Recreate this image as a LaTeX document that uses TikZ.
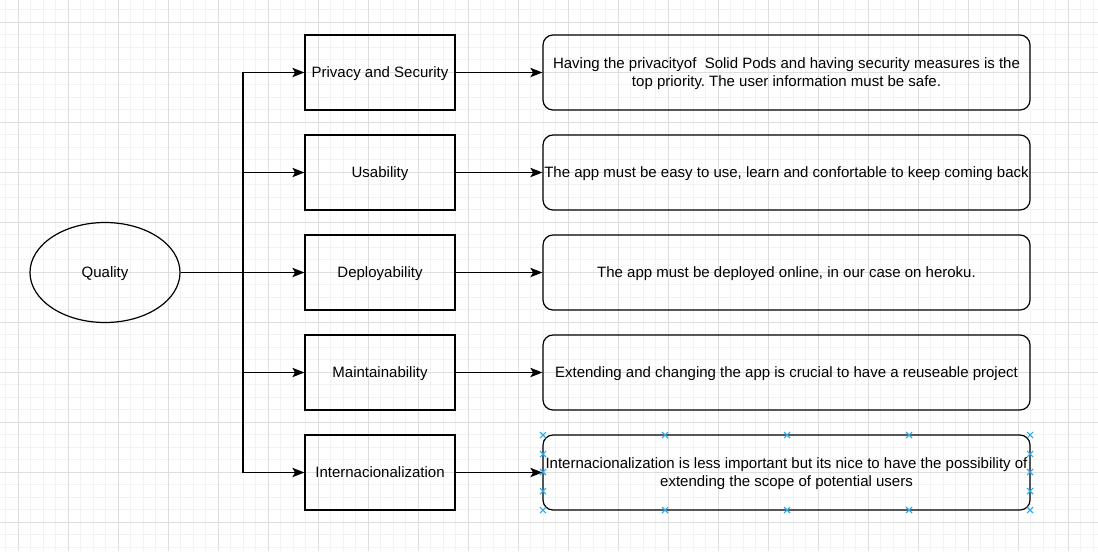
\documentclass[tikz,border=0pt]{standalone}
\usepackage{fontspec}
\setmainfont{Liberation Sans}
\usetikzlibrary{arrows.meta,shapes.geometric}
\definecolor{gridminor}{HTML}{F2F2F2}
\definecolor{gridmajor}{HTML}{DEDEDE}
\definecolor{handleblue}{HTML}{29A9E6}
\tikzset{
  attr/.style={draw, line width=0.9pt, minimum width=112.5pt, minimum height=56.25pt, inner sep=0pt, text depth=0pt, font=\fontsize{11.25}{13.5}\selectfont},
  desc/.style={draw, line width=0.9pt, rounded corners=7.5pt, minimum width=365.25pt, minimum height=56.25pt, inner sep=0pt, text depth=0pt, align=center, font=\fontsize{11.25}{13.5}\selectfont},
  goal/.style={draw, ellipse, line width=0.9pt, minimum width=112.5pt, minimum height=75pt, inner sep=0pt, text depth=0pt, font=\fontsize{11.25}{13.5}\selectfont},
  arr/.style={line width=0.9pt, -{Stealth[length=9pt, width=7pt, inset=2pt]}},
  handle/.style={handleblue, line width=0.8pt}
}
\newcommand{\handlemark}[2]{\draw[handle] (#1-3,#2-3) -- (#1+3,#2+3) (#1-3,#2+3) -- (#1+3,#2-3);}
\frenchspacing
\begin{document}
\begin{tikzpicture}[x=0.75pt, y=-0.75pt]
\useasboundingbox (0,0) rectangle (1098,551);
% grid
\foreach \g in {5.5,18,...,1098} \draw[gridminor, line width=0.6pt] (\g,0) -- (\g,551);
\foreach \g in {-3,9.5,...,551} \draw[gridminor, line width=0.6pt] (0,\g) -- (1098,\g);
\foreach \g in {18,68,...,1098} \draw[gridmajor, line width=0.6pt] (\g,0) -- (\g,551);
\foreach \g in {22,72,...,551} \draw[gridmajor, line width=0.6pt] (0,\g) -- (1098,\g);

\node[goal] (q) at (105,272.5) {Quality};
\coordinate (j) at (243,272.5);
\node[attr] (l1) at (380,72.5) {Privacy and Security}; \node[desc] (r1) at (786.5,72.5) {Having the privacityof\ \ Solid Pods and having security measures is the\\top priority. The user information must be safe.};
\node[attr] (l2) at (380,172.5) {Usability}; \node[desc] (r2) at (786.5,172.5) {The app must be easy to use, learn and confortable to keep coming back};
\node[attr] (l3) at (380,272.5) {Deployability}; \node[desc] (r3) at (786.5,272.5) {The app must be deployed online, in our case on heroku.};
\node[attr] (l4) at (380,372.5) {Maintainability}; \node[desc] (r4) at (786.5,372.5) {Extending and changing the app is crucial to have a reuseable project};
\node[attr] (l5) at (380,472.5) {Internacionalization}; \node[desc] (r5) at (786.5,472.5) {Internacionalization is less important but its nice to have the possibility of\\extending the scope of potential users};

\draw[arr] (q) -- (l3);
\foreach \i in {1,2,4,5} \draw[arr] (j) |- (l\i);
\foreach \i in {1,...,5} \draw[arr] (l\i) -- (r\i);

% selection handles
\foreach \hx in {543,665,787,909,1030} {\handlemark{\hx}{435} \handlemark{\hx}{510}}
\foreach \hy in {454,472,491} {\handlemark{543}{\hy} \handlemark{1030}{\hy}}
\end{tikzpicture}
\end{document}
